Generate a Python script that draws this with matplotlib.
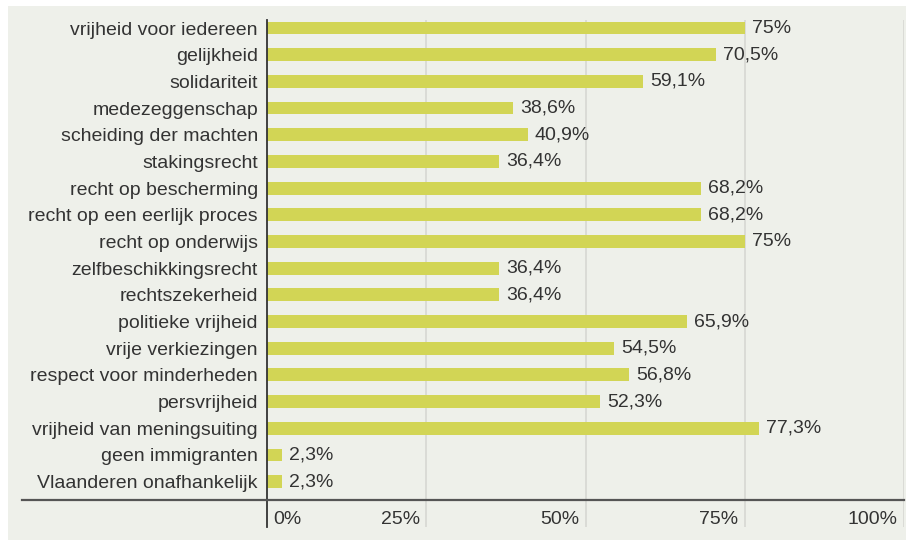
import matplotlib
matplotlib.use("Agg")
import matplotlib.pyplot as plt
from matplotlib.lines import Line2D
from matplotlib.patches import Rectangle
import matplotlib.transforms as mtransforms

categories = [
    "vrijheid voor iedereen", "gelijkheid", "solidariteit", "medezeggenschap",
    "scheiding der machten", "stakingsrecht", "recht op bescherming",
    "recht op een eerlijk proces", "recht op onderwijs", "zelfbeschikkingsrecht",
    "rechtszekerheid", "politieke vrijheid", "vrije verkiezingen",
    "respect voor minderheden", "persvrijheid", "vrijheid van meningsuiting",
    "geen immigranten", "Vlaanderen onafhankelijk",
]
values = [75, 70.5, 59.1, 38.6, 40.9, 36.4, 68.2, 68.2, 75, 36.4, 36.4,
          65.9, 54.5, 56.8, 52.3, 77.3, 2.3, 2.3]
value_labels = ["75%", "70,5%", "59,1%", "38,6%", "40,9%", "36,4%", "68,2%",
                "68,2%", "75%", "36,4%", "36,4%", "65,9%", "54,5%", "56,8%",
                "52,3%", "77,3%", "2,3%", "2,3%"]
xticks = [0, 25, 50, 75, 100]
xtick_labels = ["0%", "25%", "50%", "75%", "100%"]

BG = "#eef0ea"
BAR = "#d2d555"
TXT = "#333333"
FONT = "Liberation Sans"

W, H = 906, 540
fig = plt.figure(figsize=(W / 100, H / 100), dpi=100)
fig.patch.set_facecolor("white")
# background panel
fig.patches.append(Rectangle((8 / W, 0), 1 - 8 / W, 1 - 6 / H,
                             transform=fig.transFigure, facecolor=BG,
                             edgecolor="none", zorder=-10))

ax_left, ax_right = 267 / W, 904 / W
ax_top, ax_bottom = 20 / H, 527 / H
ax = fig.add_axes([ax_left, 1 - ax_bottom, ax_right - ax_left, ax_bottom - ax_top])
ax.set_facecolor("none")
ax.set_zorder(1)

n = len(categories)
ypos = list(range(n))
ax.barh(ypos, values, height=0.48, color=BAR, zorder=2)
ax.set_xlim(0, 100)
ax.set_ylim(18.7, -0.3)

for y, v, lab in zip(ypos, values, value_labels):
    ax.annotate(lab, (v, y), xytext=(5, 0), textcoords="offset points",
                va="center", ha="left", fontsize=14, color=TXT, family=FONT)

ax.set_yticks(ypos)
ax.set_yticklabels(categories, fontsize=14, color=TXT, family=FONT)
ax.tick_params(axis="y", length=0, pad=6.5)
ax.set_xticks([])
for s in ["top", "right", "bottom"]:
    ax.spines[s].set_visible(False)
ax.spines["left"].set_color("#333333")
ax.spines["left"].set_linewidth(1.3)

# gridlines
for t in xticks[1:]:
    ax.axvline(t, color="#d6d7d3", lw=1.2, zorder=1)

# bottom axis line across the panel
y_axis_line = 1 - 500 / H
fig.lines.append(Line2D([22 / W, 904 / W], [y_axis_line, y_axis_line],
                        transform=fig.transFigure, color="#555555", lw=1.6,
                        zorder=5))

# x tick labels
trans = mtransforms.blended_transform_factory(ax.transData, fig.transFigure)
ylab = 1 - 519 / H
for t, lab in zip(xticks, xtick_labels):
    if t == 0:
        ax.annotate(lab, (t, ylab), xycoords=trans, xytext=(4.5, 0),
                    textcoords="offset points", ha="left", va="center",
                    fontsize=14, color=TXT, family=FONT, annotation_clip=False)
    else:
        ax.annotate(lab, (t, ylab), xycoords=trans, xytext=(-4.5, 0),
                    textcoords="offset points", ha="right", va="center",
                    fontsize=14, color=TXT, family=FONT, annotation_clip=False)

fig.savefig("out.png", dpi=100, facecolor=fig.get_facecolor())
